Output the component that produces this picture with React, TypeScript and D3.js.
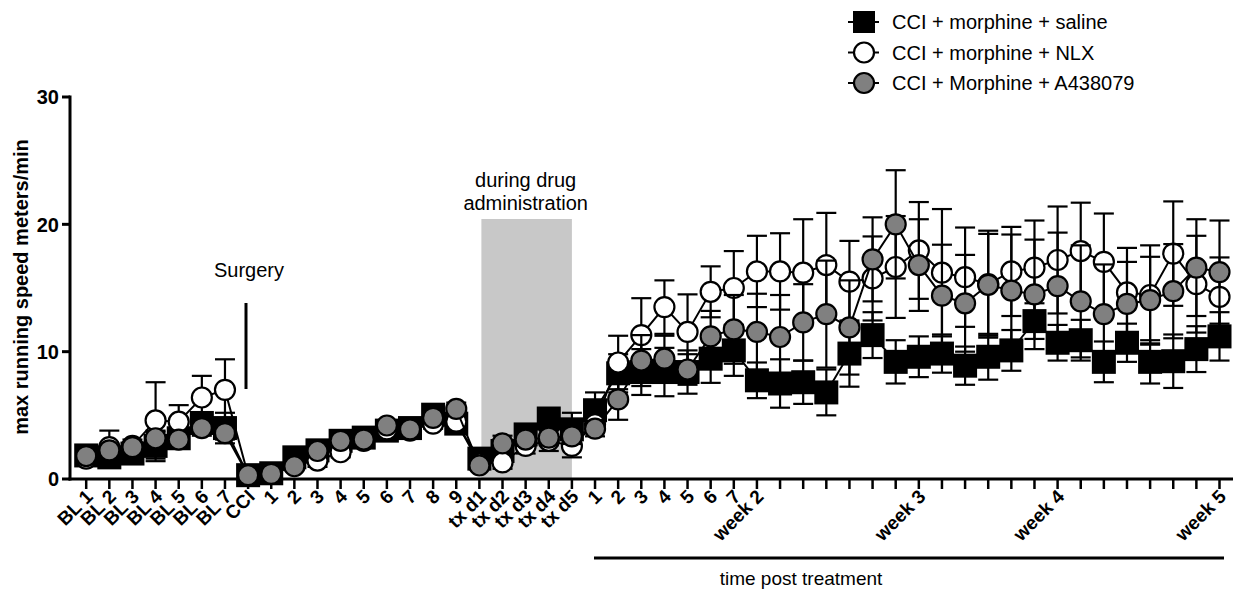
import React from 'react';
import * as d3 from 'd3';

const labels: string[] = [
  'BL 1', 'BL 2', 'BL 3', 'BL 4', 'BL 5', 'BL 6', 'BL 7', 'CCI',
  '1', '2', '3', '4', '5', '6', '7', '8', '9',
  'tx d1', 'tx d2', 'tx d3', 'tx d4', 'tx d5',
  '1', '2', '3', '4', '5', '6', '7', 'week 2',
  '', '', '', '', '', '', 'week 3',
  '', '', '', '', '', 'week 4',
  '', '', '', '', '', '', 'week 5',
];

const saline: number[] = [1.85, 1.7, 2.0, 2.6, 3.2, 4.4, 4.0, 0.3, 0.45, 1.7, 2.25, 3.0, 3.25, 3.8, 4.0, 5.05, 4.35, 1.6, 2.2, 3.5, 4.75, 3.9, 5.4, 8.3, 8.4, 8.4, 8.4, 9.45, 10.1, 7.75, 7.5, 7.6, 6.8, 9.85, 11.3, 9.2, 9.6, 9.85, 8.9, 9.6, 10.1, 12.4, 10.7, 10.9, 9.2, 10.7, 9.2, 9.25, 10.2, 11.2];
const salineErr: number[] = [0.5, 0.6, 0.6, 1.2, 0.6, 0.8, 1.2, 0.3, 0.3, 0.5, 0.5, 0.4, 0.4, 0.4, 0.4, 0.4, 0.5, 0.5, 0.6, 0.6, 0.8, 1.3, 1.4, 1.5, 1.8, 1.9, 1.7, 1.9, 2.0, 1.4, 1.9, 1.7, 1.8, 2.6, 1.8, 1.7, 1.6, 1.5, 1.5, 1.8, 1.6, 1.4, 1.4, 1.6, 1.6, 1.5, 1.7, 2.1, 1.8, 1.9];

const nlx: number[] = [1.6, 2.5, 2.6, 4.6, 4.5, 6.4, 7.0, 0.3, 0.4, 1.1, 1.45, 2.1, 3.0, 3.9, 3.8, 4.35, 4.5, 1.2, 1.3, 2.6, 3.0, 2.6, 4.3, 9.15, 11.3, 13.5, 11.55, 14.7, 15.0, 16.3, 16.3, 16.2, 16.8, 15.5, 15.75, 16.65, 17.95, 16.2, 15.85, 15.3, 16.3, 16.6, 17.2, 17.9, 17.05, 14.65, 14.45, 17.7, 15.3, 14.3];
const nlxErr: number[] = [0.4, 1.3, 0.5, 3.0, 1.3, 1.7, 2.4, 0.2, 0.2, 0.4, 0.5, 0.4, 0.4, 0.4, 0.4, 0.4, 0.5, 0.4, 0.5, 0.6, 0.8, 0.9, 0.6, 2.1, 2.9, 2.1, 2.95, 2.0, 2.9, 2.8, 3.0, 4.2, 4.1, 3.2, 3.3, 4.0, 3.8, 5.0, 3.9, 4.2, 3.5, 3.7, 4.2, 3.8, 3.8, 3.5, 3.9, 4.1, 3.8, 3.1];

const a438: number[] = [1.8, 2.25, 2.5, 3.2, 3.1, 4.0, 3.6, 0.3, 0.4, 1.0, 2.2, 3.0, 3.1, 4.2, 3.9, 4.8, 5.5, 1.06, 2.8, 3.1, 3.25, 3.35, 3.95, 6.25, 9.3, 9.45, 8.6, 11.2, 11.75, 11.55, 11.15, 12.3, 12.95, 11.9, 17.25, 20.0, 16.8, 14.4, 13.8, 15.25, 14.8, 14.5, 15.15, 13.95, 12.95, 13.75, 14.05, 14.75, 16.6, 16.25];
const a438Err: number[] = [0.3, 0.4, 0.4, 0.5, 0.4, 0.6, 0.5, 0.2, 0.2, 0.3, 0.4, 0.4, 0.4, 0.4, 0.4, 0.4, 0.5, 0.3, 0.6, 0.5, 0.6, 0.6, 0.6, 1.6, 2.0, 1.8, 1.2, 2.0, 2.7, 3.0, 3.3, 3.0, 4.2, 3.7, 3.3, 4.25, 3.6, 4.0, 3.8, 4.0, 4.4, 4.3, 4.2, 4.4, 3.9, 3.3, 3.4, 3.7, 3.8, 4.05];

const yTicks: number[] = [0, 10, 20, 30];

const FONT = '"Liberation Sans", Arial, Helvetica, sans-serif';

type Series = { name: string; values: number[]; err: number[]; shape: 'square' | 'circle'; fill: string };

const series: Series[] = [
  { name: 'CCI + morphine + saline', values: saline, err: salineErr, shape: 'square', fill: '#000000' },
  { name: 'CCI + morphine + NLX', values: nlx, err: nlxErr, shape: 'circle', fill: '#ffffff' },
  { name: 'CCI + Morphine + A438079', values: a438, err: a438Err, shape: 'circle', fill: '#808080' },
];

const SQ = 24;
const R = 10;
const CAP = 10;

function Marker({ s, cx, cy }: { s: Series; cx: number; cy: number }) {
  if (s.shape === 'square') {
    return <rect x={cx - SQ / 2} y={cy - SQ / 2} width={SQ} height={SQ} fill={s.fill} />;
  }
  return <circle cx={cx} cy={cy} r={R} fill={s.fill} stroke="#000" strokeWidth={2.2} />;
}

export default function App() {
  const W = 1236, H = 596;
  const x = d3.scaleLinear().domain([0, 49]).range([86.2, 1219.5]);
  const y = d3.scaleLinear().domain([0, 30]).range([479, 97]);
  const line = d3.line<number>().x((_, i) => x(i)).y((d) => y(d));
  const y0 = y(0);

  return (
    <svg width={W} height={H} style={{ position: 'absolute', left: 0, top: 0, background: '#fff' }} fontFamily={FONT}>
      <rect x={0} y={0} width={W} height={H} fill="#fff" />
      {/* shaded drug administration period */}
      <rect x={x(17) + 2} y={219} width={x(21) - x(17) - 2} height={y0 - 219} fill="#c8c8c8" />

      {/* axes */}
      <line x1={70} x2={70} y1={y(30) - 1.5} y2={y0 + 1.5} stroke="#000" strokeWidth={3} />
      <line x1={68.5} x2={1233} y1={y0} y2={y0} stroke="#000" strokeWidth={3} />
      {yTicks.map((t) => (
        <g key={t}>
          <line x1={62} x2={70} y1={y(t)} y2={y(t)} stroke="#000" strokeWidth={3} />
          <text x={59} y={y(t)} dy="0.36em" textAnchor="end" fontWeight="bold" fontSize={20}>{t}</text>
        </g>
      ))}
      {labels.map((l, i) => (
        <g key={i}>
          <line x1={x(i)} x2={x(i)} y1={y0} y2={y0 + 10} stroke="#000" strokeWidth={2.5} />
          {l && (
            <text transform={`translate(${x(i) + 3},${y0 + 14}) rotate(-45)`} dy="0.36em" textAnchor="end" fontWeight="bold" fontSize={19}>{l}</text>
          )}
        </g>
      ))}
      <text transform={`translate(28,287) rotate(-90)`} textAnchor="middle" fontWeight="bold" fontSize={20}>max running speed meters/min</text>

      {/* data */}
      {series.map((s, si) => (
        <g key={si}>
          <path d={line(s.values) || ''} fill="none" stroke="#000" strokeWidth={2} />
          {s.values.map((v, i) => {
            const cx = x(i);
            const top = y(v + s.err[i]);
            const bot = y(Math.max(0, v - s.err[i]));
            return (
              <g key={i} stroke="#000" strokeWidth={2.2}>
                <line x1={cx} x2={cx} y1={top} y2={bot} />
                <line x1={cx - CAP} x2={cx + CAP} y1={top} y2={top} />
                <line x1={cx - CAP} x2={cx + CAP} y1={bot} y2={bot} />
              </g>
            );
          })}
          {s.values.map((v, i) => (
            <Marker key={'m' + i} s={s} cx={x(i)} cy={y(v)} />
          ))}
        </g>
      ))}

      {/* annotations */}
      <text x={249} y={277} textAnchor="middle" fontSize={20}>Surgery</text>
      <line x1={246} x2={246} y1={303} y2={389} stroke="#000" strokeWidth={3} />
      <text x={(x(17) + x(21)) / 2} y={187} textAnchor="middle" fontSize={20}>during drug</text>
      <text x={(x(17) + x(21)) / 2} y={210} textAnchor="middle" fontSize={20}>administration</text>
      <line x1={594} x2={1224} y1={558} y2={558} stroke="#000" strokeWidth={3} />
      <text x={801} y={585} textAnchor="middle" fontSize={19}>time post treatment</text>

      {/* legend */}
      {series.map((s, i) => {
        const cy = 22 + i * 30.5;
        return (
          <g key={'lg' + i}>
            <line x1={848} x2={879} y1={cy} y2={cy} stroke="#000" strokeWidth={2} />
            {s.shape === 'square' ? (
              <rect x={864 - 11} y={cy - 11} width={22} height={22} fill="#000" />
            ) : (
              <circle cx={864} cy={cy} r={10} fill={s.fill} stroke="#000" strokeWidth={2.2} />
            )}
            <text x={892} y={cy} dy="0.36em" fontSize={20}>{s.name}</text>
          </g>
        );
      })}
    </svg>
  );
}
